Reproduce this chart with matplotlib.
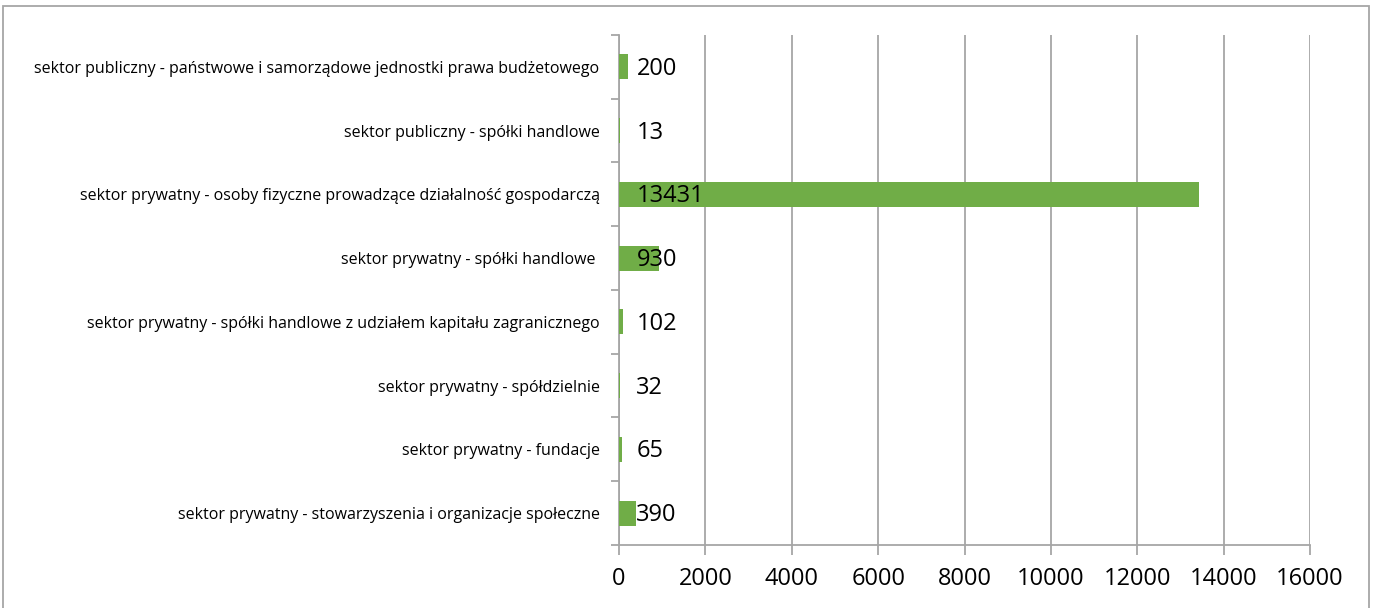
import numpy as np
import matplotlib.pyplot as plt
from matplotlib.patches import Rectangle

categories = [
    'sektor publiczny - państwowe i samorządowe jednostki prawa budżetowego',
    'sektor publiczny - spółki handlowe',
    'sektor prywatny - osoby fizyczne prowadzące działalność gospodarczą',
    'sektor prywatny - spółki handlowe ',
    'sektor prywatny - spółki handlowe z udziałem kapitału zagranicznego',
    'sektor prywatny - spółdzielnie',
    'sektor prywatny - fundacje',
    'sektor prywatny - stowarzyszenia i organizacje społeczne',
]
values = [200, 13, 13431, 930, 102, 32, 65, 390]
xticks = [0, 2000, 4000, 6000, 8000, 10000, 12000, 14000, 16000]

plt.rcParams['font.family'] = ['Open Sans', 'DejaVu Sans']
grey = '#a6a6a6'

fig = plt.figure(figsize=(13.76, 6.08), dpi=100)
fig.patches.append(Rectangle((0.0025, -0.1), 0.9925, 1.09, transform=fig.transFigure,
                             fill=False, edgecolor=grey, linewidth=1.3))
ax = fig.add_axes([0.4499, 0.1036, 0.5022, 0.839])

y = np.arange(len(values))
ax.barh(y, values, height=0.39, color='#70ad47', zorder=3)
for yi, v in zip(y, values):
    ax.annotate(str(v), (0, yi), xytext=(12.5, -1.5), textcoords='offset points',
                va='center', ha='left', fontsize=17, zorder=4)

ax.set_xlim(0, 16000)
ax.set_ylim(len(values) - 0.5, -0.5)
ax.set_xticks(xticks)
ax.set_xticklabels([str(t) for t in xticks], fontsize=17)
ax.set_yticks(y)
ax.set_yticklabels(categories, fontsize=11.5)
ax.set_yticks(np.arange(len(values) + 1) - 0.5, minor=True)
ax.tick_params(axis='y', which='major', length=0, pad=14)
ax.tick_params(axis='y', which='minor', length=6, color=grey, width=1.3)
ax.tick_params(axis='x', length=7, color=grey, width=1.3, pad=9)
ax.grid(axis='x', color=grey, linewidth=1.3, zorder=0)

for s in ['top', 'right']:
    ax.spines[s].set_visible(False)
for s in ['left', 'bottom']:
    ax.spines[s].set_color(grey)
    ax.spines[s].set_linewidth(1.3)

fig.savefig('out.png', dpi=100)
